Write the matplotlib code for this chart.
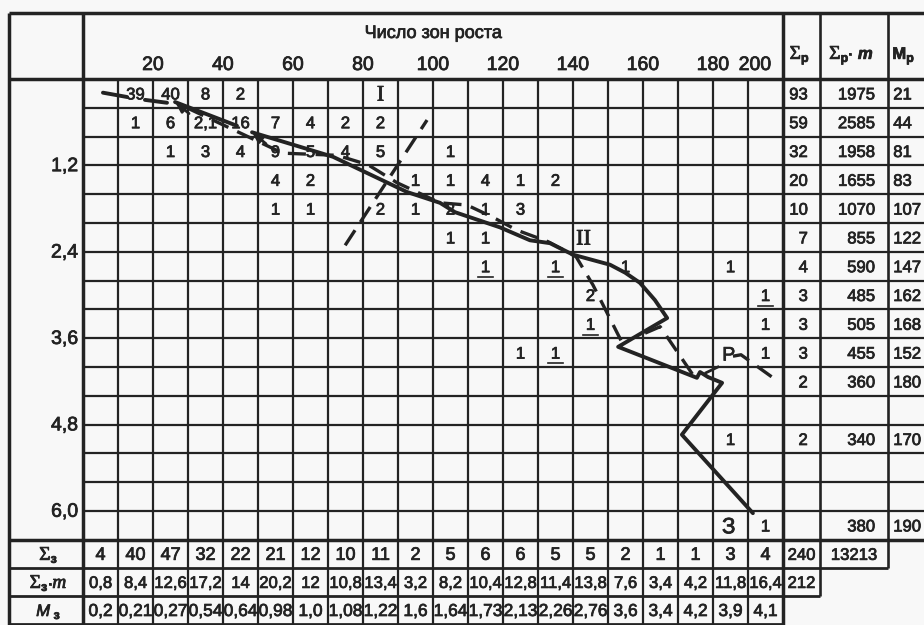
import matplotlib
matplotlib.use("Agg")
import matplotlib.pyplot as plt
import matplotlib.patheffects as pe
from matplotlib.transforms import offset_copy

plt.rcParams["font.family"] = ["Liberation Sans", "DejaVu Sans"]
plt.rcParams["lines.scale_dashes"] = False

# ---------------- data ----------------
x_title = "Число зон роста"
x_tick_labels = ["20", "40", "60", "80", "100", "120", "140", "160", "180", "200"]
x_tick_values = [20, 40, 60, 80, 100, 120, 140, 160, 180, 192]
y_tick_labels = ["1,2", "2,4", "3,6", "4,8", "6,0"]
y_tick_values = [1.2, 2.4, 3.6, 4.8, 6.0]

# frequencies: one dict per class row (1..16), key = zone column (1..20)
row01 = {2: "39", 3: "40", 4: "8", 5: "2"}
row02 = {2: "1", 3: "6", 4: "2,1", 5: "16", 6: "7", 7: "4", 8: "2", 9: "2"}
row03 = {3: "1", 4: "3", 5: "4", 6: "9", 7: "5", 8: "4", 9: "5", 11: "1"}
row04 = {6: "4", 7: "2", 10: "1", 11: "1", 12: "4", 13: "1", 14: "2"}
row05 = {6: "1", 7: "1", 9: "2", 10: "1", 11: "2", 12: "1", 13: "3"}
row06 = {11: "1", 12: "1"}
row07 = {12: "1", 14: "1", 16: "1", 19: "1"}
row08 = {15: "2", 20: "1"}
row09 = {15: "1", 20: "1"}
row10 = {13: "1", 14: "1", 20: "1"}
row11 = {}
row12 = {}
row13 = {19: "1"}
row14 = {}
row15 = {}
row16 = {20: "1"}
grid_rows = [row01, row02, row03, row04, row05, row06, row07, row08,
             row09, row10, row11, row12, row13, row14, row15, row16]
underlined = [(7, 12), (7, 14), (9, 15), (10, 14), (8, 20)]
zone_labels = [(1, 9, "I"), (6, 15, "II"), (10, 19, "P"), (16, 19, "З")]

sum_z = ["4", "40", "47", "32", "22", "21", "12", "10", "11", "2",
         "5", "6", "6", "5", "5", "2", "1", "1", "3", "4"]
sum_zm = ["0,8", "8,4", "12,6", "17,2", "14", "20,2", "12", "10,8", "13,4", "3,2",
          "8,2", "10,4", "12,8", "11,4", "13,8", "7,6", "3,4", "4,2", "11,8", "16,4"]
mean_z = ["0,2", "0,21", "0,27", "0,54", "0,64", "0,98", "1,0", "1,08", "1,22", "1,6",
          "1,64", "1,73", "2,13", "2,26", "2,76", "3,6", "3,4", "4,2", "3,9", "4,1"]
sum_p = ["93", "59", "32", "20", "10", "7", "4", "3", "3", "3", "2", "", "2", "", "", ""]
sum_pm = ["1975", "2585", "1958", "1655", "1070", "855", "590", "485", "505", "455",
          "360", "", "340", "", "", "380"]
mean_p = ["21", "44", "81", "83", "107", "122", "147", "162", "168", "152",
          "180", "", "170", "", "", "190"]
total_p = "240"
total_pm = "13213"
total_zm = "212"

# growth lines (zone number, class value)
main_a_x = [5.7, 12.6]
main_a_y = [0.19, 0.25]
main_b_x = [17.7, 24.0]
main_b_y = [0.29, 0.33]
main_c_x = [26.3, 44.0]
main_c_y = [0.32, 0.65]
main_d_x = [48.3, 71.4, 92.6, 102.0, 106.3, 119.1, 127.7, 133.4, 140.0, 150.6, 154.9,
            159.1, 163.4, 166.9, 152.9, 175.4, 176.3, 178.6, 182.6, 171.1, 191.4]
main_d_y = [0.74, 1.08, 1.57, 1.72, 1.85, 2.06, 2.24, 2.28, 2.44, 2.58, 2.69,
            2.83, 3.07, 3.32, 3.72, 4.15, 4.07, 4.14, 4.22, 4.94, 6.03]
dash_1_x = [74.9, 98.3]
dash_1_y = [2.31, 0.57]
dash_2_x = [29.7, 57.1, 72.6, 81.4, 89.7, 102.0, 109.7, 117.1, 124.0, 132.9, 138.3,
            140.9, 145.7, 153.7]
dash_2_y = [0.40, 1.03, 1.06, 1.19, 1.44, 1.72, 1.75, 1.92, 2.10, 2.26, 2.40,
            2.47, 2.86, 3.63]
dash_3_x = [160.6, 164.9, 175.4]
dash_3_y = [3.53, 3.44, 4.19]
dash_p_x = [185.7, 188.0, 198.3]
dash_p_y = [3.85, 3.83, 4.19]
dash_p2_x = [178.0, 181.4]
dash_p2_y = [4.08, 4.00]

# ---------------- layout ----------------
NCOL, NROW = 20, 16
CW, RH = 10.0, 0.4
BR = 0.39                       # height of bottom summary rows
X_LEFT = -21.1
Y_TOP = -0.917
XR1, XR2, XR3 = 200.0, 210.6, 230.0
X_EDGE = 246.0
INK = "#232323"
BG = "#f8f8f8"
BOLDEN = [pe.withStroke(linewidth=0.55, foreground=INK)]

fig = plt.figure(figsize=(9.24, 6.25), dpi=100, facecolor=BG)
ax = fig.add_axes([0, 0, 1, 1])
ax.set_facecolor(BG)
ax.set_xlim(-83 / 3.5, (924 - 83) / 3.5)
ax.set_ylim((625 - 79) / 72.0, -79 / 72.0)
ax.axis("off")

y_bot = NROW * RH
y_b1 = y_bot + BR
y_b2 = y_b1 + BR
y_b3 = y_b2 + BR
LW, LWT = 1.6, 2.5

# horizontal lines
ax.hlines(Y_TOP, X_LEFT, X_EDGE, color=INK, lw=LWT)
ax.hlines(0, X_LEFT, X_EDGE, color=INK, lw=LWT)
for k in range(1, NROW):
    ax.hlines(k * RH, 0, X_EDGE, color=INK, lw=LW)
ax.hlines(y_bot, X_LEFT, X_EDGE, color=INK, lw=LWT)
ax.hlines(y_b1, X_LEFT, XR3, color=INK, lw=LW + 0.4)
ax.hlines(y_b2, X_LEFT, XR2, color=INK, lw=LW + 0.4)
ax.hlines(y_b3, X_LEFT, XR1, color=INK, lw=LW + 0.4)
# vertical lines
ax.vlines(X_LEFT, Y_TOP, y_b3 + 0.2, color=INK, lw=LWT)
ax.vlines(0, Y_TOP, y_b3 + 0.2, color=INK, lw=LWT)
for k in range(1, NCOL):
    ax.vlines(k * CW, 0, y_b3, color=INK, lw=LW)
ax.vlines(XR1, Y_TOP, y_b3 + 0.2, color=INK, lw=LWT)
ax.vlines(XR2, Y_TOP, y_b2, color=INK, lw=LW + 0.3)
ax.vlines(XR3, Y_TOP, y_b1, color=INK, lw=LW + 0.3)

renderer = fig.canvas.get_renderer()


def txt(x, y, s, **kw):
    kw.setdefault("color", INK)
    kw.setdefault("va", "baseline")
    return ax.text(x, y, s, path_effects=BOLDEN, **kw)


def rich(x, y, parts, ha="center"):
    objs, widths = [], []
    for s, kw, dy in parts:
        o = txt(x, y, s, ha="left", **kw)
        widths.append(o.get_window_extent(renderer).width)
        objs.append((o, dy))
    total = sum(widths)
    cum = -total / 2 if ha == "center" else 0.0
    for (o, dy), w in zip(objs, widths):
        o.set_transform(offset_copy(ax.transData, fig=fig, x=cum, y=dy, units="dots"))
        cum += w


BASE = 6 / 72.0   # baseline offset from row centre

# header
txt(100, -0.57, x_title, ha="center", fontsize=13)
for lab, v in zip(x_tick_labels, x_tick_values):
    txt(v, -0.125, lab, ha="center", fontsize=14)
for lab, v in zip(y_tick_labels, y_tick_values):
    txt(-1.4, v + 0.08, lab, ha="right", fontsize=14)

SIG = dict(fontsize=14, family=["Liberation Serif", "DejaVu Serif"])
rich(204.6, -0.28, [("Σ", SIG, 0), ("р", dict(fontsize=9, weight="bold"), -3)])
rich(219.4, -0.28, [("Σ", SIG, 0), ("р", dict(fontsize=9, weight="bold"), -3),
                    ("·", dict(fontsize=11, weight="bold"), 0),
                    (" m", dict(fontsize=12, weight="bold", style="italic"), 0)])
rich(234.3, -0.28, [("M", dict(fontsize=12, weight="bold"), 0),
                    ("р", dict(fontsize=9, weight="bold"), -3)])

# grid cells
for r, row in enumerate(grid_rows, start=1):
    yc = (r - 1) * RH + RH / 2
    for c, s in row.items():
        xc = (c - 1) * CW + CW / 2
        txt(xc, yc + BASE, s, ha="center", fontsize=12)
for r, c in underlined:
    xc = (c - 1) * CW + CW / 2
    yc = (r - 1) * RH + RH / 2
    ax.plot([xc - 2.2, xc + 2.2], [yc + 0.15, yc + 0.15], color=INK, lw=1.2)
for r, c, s in zone_labels:
    xc = (c - 1) * CW + CW / 2
    yc = (r - 1) * RH + RH / 2
    if s in ("I", "II"):
        txt(xc - (2.0 if s == "II" else 0.0), yc + 0.1, s, ha="center", fontsize=16,
            family=["Liberation Serif", "DejaVu Serif"])
    else:
        txt(xc - 0.5, yc + 0.11, s, ha="center", fontsize=16 if s == "З" else 14)

# right panel
for r in range(NROW):
    yb = r * RH + RH / 2 + BASE
    if sum_p[r]:
        txt(207.1, yb, sum_p[r], ha="right", fontsize=12)
    if sum_pm[r]:
        txt(226.3, yb, sum_pm[r], ha="right", fontsize=12)
    if mean_p[r]:
        txt(231.5, yb, mean_p[r], ha="left", fontsize=12)

# bottom summary rows
yb1 = y_bot + BR / 2 + BASE
yb2 = y_b1 + BR / 2 + BASE
yb3 = y_b2 + BR / 2 + BASE
for c in range(NCOL):
    xc = c * CW + CW / 2
    txt(xc, yb1, sum_z[c], ha="center", fontsize=13)
    txt(xc, yb2, sum_zm[c], ha="center", fontsize=12)
    txt(xc, yb3, mean_z[c], ha="center", fontsize=12.5)
txt((XR1 + XR2) / 2, yb1, total_p, ha="center", fontsize=12)
txt((XR2 + XR3) / 2, yb1, total_pm, ha="center", fontsize=12)
txt((XR1 + XR2) / 2, yb2, total_zm, ha="center", fontsize=12)

SUBZ = dict(fontsize=9, weight="bold")
rich(-10.0, yb1, [("Σ", SIG, 0), ("з", SUBZ, -3)])
rich(-10.0, yb2, [("Σ", SIG, 0), ("з", SUBZ, -3), ("·", dict(fontsize=11), 0),
                  ("m", dict(fontsize=14, style="italic",
                             family=["Liberation Serif", "DejaVu Serif"]), 0)])
rich(-10.0, yb3, [("M", dict(fontsize=12, style="italic"), 0),
                  (" з", SUBZ, -3)])

# growth lines
SOLID = dict(color=INK, lw=2.8, solid_capstyle="round", solid_joinstyle="round")
ax.plot(main_a_x, main_a_y, **SOLID)
ax.plot(main_b_x, main_b_y, **SOLID)
ax.plot(main_c_x, main_c_y, **SOLID)
ax.plot(main_d_x, main_d_y, **SOLID)
for xs, ys in ((main_c_x, main_c_y), (main_d_x, main_d_y)):
    ax.annotate("", xy=(xs[0], ys[0]), xytext=(xs[0] + 4.0, ys[0] + 0.16),
                arrowprops=dict(arrowstyle="-|>,head_length=0.6,head_width=0.25",
                                color=INK, lw=2.0, shrinkA=0, shrinkB=0))
DASH = dict(color=INK, lw=2.4, dashes=(13, 7), dash_capstyle="butt")
ax.plot(dash_1_x, dash_1_y, **DASH)
ax.plot(dash_2_x, dash_2_y, **DASH)
ax.plot(dash_3_x, dash_3_y, **DASH)
ax.plot(dash_p_x, dash_p_y, **DASH)
ax.plot(dash_p2_x, dash_p2_y, color=INK, lw=2.0)

fig.savefig("out.png", dpi=100, facecolor=BG)
